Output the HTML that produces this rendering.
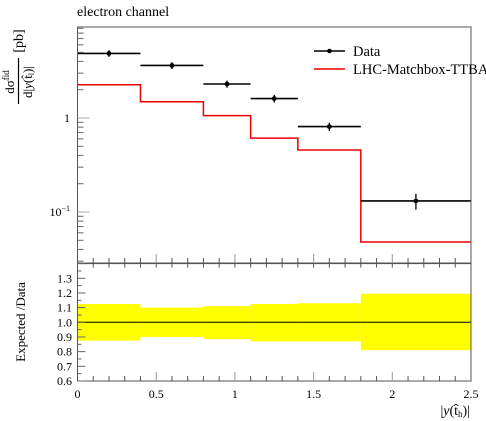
<!DOCTYPE html>
<html><head><meta charset="utf-8"><style>
html,body{margin:0;padding:0;background:#fff;overflow:hidden;}
svg{display:block;font-family:"Liberation Serif",serif;}
</style></head><body>
<svg id="c" width="486" height="421" viewBox="0 0 486 421">
<text x="77" y="16" font-size="14">electron channel</text>
<g id="ylab">
  <text transform="translate(14,82) rotate(-90)" font-size="13" text-anchor="middle">dσ<tspan font-size="9" dy="-5">fid</tspan></text>
  <line x1="18.5" y1="58" x2="18.5" y2="104" stroke="#000" stroke-width="1.2"/>
  <text transform="translate(32,82) rotate(-90)" font-size="13" text-anchor="middle">d|<tspan font-style="italic">y</tspan>(t̂<tspan font-size="8" dy="2">l</tspan><tspan dy="-2">)|</tspan></text>
  <text transform="translate(23,41) rotate(-90)" font-size="14" text-anchor="middle">[pb]</text>
</g>
<text transform="translate(25,322) rotate(-90)" font-size="13" text-anchor="middle">Expected /Data</text>
<text x="470" y="415" font-size="14" text-anchor="end">|<tspan font-style="italic">y</tspan>(t̂<tspan font-size="9" dy="2">h</tspan><tspan dy="-2">)|</tspan></text>
<g id="main"></g>
<g id="ratio"></g>
<g>
  <line x1="314" y1="51" x2="345" y2="51" stroke="#000" stroke-width="1.5"/>
  <circle cx="329.5" cy="51" r="2.3" fill="#000"/>
  <text x="353" y="56" font-size="14.5">Data</text>
  <line x1="314" y1="69" x2="345" y2="69" stroke="#e00" stroke-width="1.5"/>
  <text x="353" y="74" font-size="14.5">LHC-Matchbox-TTBA</text>
</g>
</svg>
<script>
const edges=[0,0.4,0.8,1.1,1.4,1.8,2.5];
const dataVals=[4.86,3.62,2.30,1.61,0.81,0.131];
const dataErr=[0.4,0.3,0.2,0.15,0.08,0.025];
const mcVals=[2.26,1.49,1.06,0.61,0.457,0.048];
const bandLo=[0.875,0.9,0.885,0.87,0.87,0.81];
const bandHi=[1.125,1.1,1.11,1.125,1.13,1.195];
const xTickLabels=["0","0.5","1","1.5","2","2.5"];
const ratioTicks=["0.6","0.7","0.8","0.9","1.0","1.1","1.2","1.3"];
const NS="http://www.w3.org/2000/svg";
const X0=77.5,X1=471,MT=27,MB=263,RT=263.6,RB=381;
const sx=v=>X0+(X1-X0)*v/2.5;
const sy=v=>118-94*Math.log10(v);
const ry=v=>322.3-(v-1)*146.7;
function mk(p,tag,a){const e=document.createElementNS(NS,tag);for(const k in a)e.setAttribute(k,a[k]);p.appendChild(e);return e;}
const main=document.getElementById('main'),ratio=document.getElementById('ratio');
let d="M"+sx(edges[0])+","+sy(mcVals[0]);
for(let i=0;i<mcVals.length;i++){d+=" L"+sx(edges[i+1])+","+sy(mcVals[i]);if(i<mcVals.length-1)d+=" L"+sx(edges[i+1])+","+sy(mcVals[i+1]);}
const mc=mk(main,'path',{d:d,fill:'none',stroke:'#e00','stroke-width':1.5});


for(let i=0;i<dataVals.length;i++){
  const g=mk(main,'g',{});
  
  
  const xc=(edges[i]+edges[i+1])/2,y=sy(dataVals[i]);
  mk(g,'line',{x1:sx(edges[i]),x2:sx(edges[i+1]),y1:y,y2:y,stroke:'#000','stroke-width':1.6});
  mk(g,'line',{x1:sx(xc),x2:sx(xc),y1:sy(dataVals[i]+dataErr[i]),y2:sy(dataVals[i]-dataErr[i]),stroke:'#000','stroke-width':1.3});
  mk(g,'circle',{cx:sx(xc),cy:y,r:2.4,fill:'#000'});
}
for(let i=0;i<bandLo.length;i++){
  const r=mk(ratio,'rect',{x:sx(edges[i]),y:ry(bandHi[i]),width:sx(edges[i+1])-sx(edges[i]),height:ry(bandLo[i])-ry(bandHi[i]),fill:'#ffff00'});
  
  
}
mk(ratio,'line',{x1:X0,x2:X1,y1:ry(1),y2:ry(1),stroke:'#000','stroke-width':1});
mk(main,'rect',{x:X0,y:MT,width:X1-X0,height:MB-MT,fill:'none',stroke:'#555','stroke-width':1});
mk(ratio,'rect',{x:X0,y:RT,width:X1-X0,height:RB-RT,fill:'none',stroke:'#555','stroke-width':1});
for(let k=1;k<25;k++){const v=k/10,maj=(k%5==0),x=sx(v);
  mk(main,'line',{x1:x,x2:x,y1:MB,y2:MB-(maj?9:5),stroke:maj?'#999':'#555'});
  mk(ratio,'line',{x1:x,x2:x,y1:RB,y2:RB-(maj?9:5),stroke:maj?'#999':'#555'});
  mk(ratio,'line',{x1:x,x2:x,y1:RT,y2:RT+4,stroke:'#555'});
}
xTickLabels.forEach((t,i)=>{const e=mk(ratio,'text',{x:sx(i*0.5),y:398,'font-size':12,'text-anchor':'middle'});e.textContent=t;
  
  });
for(let dec=-2;dec<=1;dec++)for(let m=1;m<10;m++){const v=m*Math.pow(10,dec),y=sy(v);if(y<MT||y>MB)continue;
  mk(main,'line',{x1:X0,x2:X0+(m==1?12:6),y1:y,y2:y,stroke:m==1?'#aaa':'#666'});}
[["1",1],["10",0.1]].forEach(([t,v],i)=>{const e=mk(main,'text',{x:70,y:sy(v)+4,'font-size':12,'text-anchor':'end'});
  
  
  if(i==0)e.textContent=t;else{e.textContent="10";const s=mk(e,'tspan',{dy:-5,'font-size':8});s.textContent="−1";}});
for(let k=6;k<=14;k++){const y=ry(k/10);mk(ratio,'line',{x1:X0,x2:X0+8,y1:y,y2:y,stroke:'#666'});
  if(k<14)mk(ratio,'line',{x1:X0,x2:X0+4,y1:ry(k/10+0.05),y2:ry(k/10+0.05),stroke:'#666'});}
ratioTicks.forEach(t=>{const e=mk(ratio,'text',{x:72,y:ry(parseFloat(t))+4,'font-size':12,'text-anchor':'end'});e.textContent=t;
  
  });
</script>
</body></html>
